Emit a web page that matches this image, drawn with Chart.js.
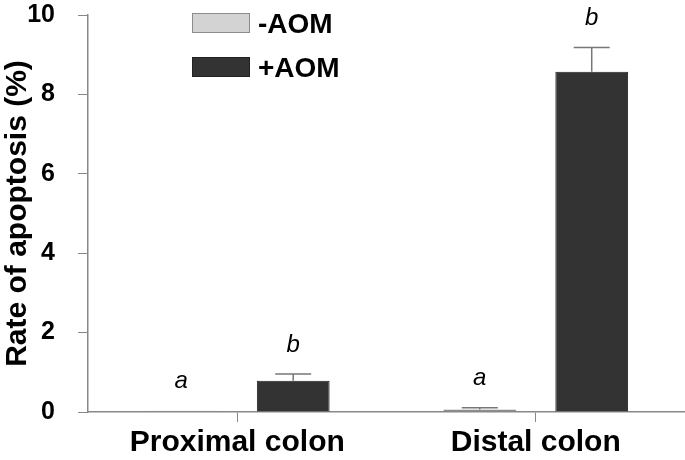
<!DOCTYPE html>
<html>
<head>
<meta charset="utf-8">
<script src="https://cdn.jsdelivr.net/npm/chart.js@4.4.1/dist/chart.umd.min.js"></script>
<style>
  html, body { margin: 0; padding: 0; background: #fff; }
  #wrap { width: 685px; height: 460px; position: relative; }
</style>
</head>
<body>
<div id="wrap"><canvas id="chartBar"></canvas></div>
<script>
// data
var categories = ["Proximal colon", "Distal colon"];
var minusAOM = [0.03, 0.06];
var plusAOM = [0.79, 8.57];
var minusErr = [0.0, 0.05];
var plusErr = [0.17, 0.61];
var minusLetters = ["a", "a"];
var plusLetters = ["b", "b"];
var yTicks = [0, 2, 4, 6, 8, 10];

var FONT = "'Liberation Sans', Arial, Helvetica, sans-serif";

// error bars (upward only) and significance letters
var errorBars = {
    id: "errorBars",
    afterDatasetsDraw: function (chart) {
        var ctx = chart.ctx;
        var y = chart.scales.y;
        chart.data.datasets.forEach(function (ds, di) {
            var meta = chart.getDatasetMeta(di);
            meta.data.forEach(function (bar, i) {
                var top = y.getPixelForValue(ds.data[i] + ds.err[i]);
                if (ds.err[i] > 0) {
                    ctx.save();
                    ctx.strokeStyle = "#777";
                    ctx.lineWidth = 1.5;
                    ctx.beginPath();
                    ctx.moveTo(bar.x, bar.y);
                    ctx.lineTo(bar.x, top);
                    ctx.moveTo(bar.x - 18, top);
                    ctx.lineTo(bar.x + 18, top);
                    ctx.stroke();
                    ctx.restore();
                }
                ctx.save();
                ctx.fillStyle = "#000";
                ctx.font = "italic 24px " + FONT;
                ctx.textAlign = "center";
                ctx.textBaseline = "middle";
                ctx.fillText(ds.letters[i], bar.x, top - 29);
                ctx.restore();
            });
        });
    }
};

// legend boxes stacked inside the plot
var boxLegend = {
    id: "boxLegend",
    afterDraw: function (chart) {
        var ctx = chart.ctx;
        chart.data.datasets.forEach(function (ds, di) {
            var bx = 192, by = 13 + di * 44;
            ctx.save();
            ctx.fillStyle = ds.backgroundColor;
            ctx.fillRect(bx, by, 58, 20);
            ctx.strokeStyle = ds.borderColor;
            ctx.lineWidth = 1;
            ctx.strokeRect(bx + 0.5, by + 0.5, 57, 19);
            ctx.fillStyle = "#000";
            ctx.font = "bold 28px " + FONT;
            ctx.textBaseline = "middle";
            ctx.fillText(ds.label, bx + 66, by + 12);
            ctx.restore();
        });
    }
};

var ctx = document.getElementById("chartBar").getContext("2d");
var chart = new Chart(ctx, {
    type: "bar",
    data: {
        labels: categories,
        datasets: [{
            label: "-AOM",
            data: minusAOM,
            err: minusErr,
            letters: minusLetters,
            backgroundColor: "#d3d3d3",
            borderColor: "#8c8c8c",
            borderWidth: 1,
            borderSkipped: false,
            categoryPercentage: 0.75,
            barPercentage: 0.65
        }, {
            label: "+AOM",
            data: plusAOM,
            err: plusErr,
            letters: plusLetters,
            backgroundColor: "#333333",
            borderColor: "#222222",
            borderWidth: 1,
            categoryPercentage: 0.75,
            barPercentage: 0.65
        }]
    },
    options: {
        responsive: true,
        maintainAspectRatio: false,
        animation: false,
        layout: { padding: { top: 15, right: 0, left: 0, bottom: 0 } },
        plugins: {
            legend: { display: false },
            tooltip: { enabled: false }
        },
        scales: {
            x: {
                grid: {
                    display: true,
                    offset: false,
                    drawOnChartArea: false,
                    drawTicks: true,
                    tickLength: 10,
                    color: "#888"
                },
                border: { color: "#888", width: 1.5 },
                ticks: {
                    color: "#000",
                    padding: 3,
                    font: { family: FONT, size: 30, weight: "bold" }
                },
                afterFit: function (scale) {
                    scale.height = 48;
                    scale.paddingLeft = 0;
                    scale.paddingRight = 0;
                }
            },
            y: {
                min: 0,
                max: 10,
                afterBuildTicks: function (scale) {
                    scale.ticks = yTicks.map(function (v) { return { value: v }; });
                },
                grid: {
                    display: true,
                    drawOnChartArea: false,
                    drawTicks: true,
                    tickLength: 10,
                    color: "#888"
                },
                border: { color: "#888", width: 1.5 },
                ticks: {
                    color: "#000",
                    padding: 23,
                    font: { family: FONT, size: 25, weight: "bold" }
                },
                title: {
                    display: true,
                    text: "Rate of apoptosis (%)",
                    color: "#000",
                    padding: { top: 0, bottom: 0 },
                    font: { family: FONT, size: 30, weight: "bold" }
                },
                afterFit: function (scale) {
                    scale.width = 88;
                    scale.paddingTop = 0;
                    scale.paddingBottom = 0;
                }
            }
        }
    },
    plugins: [errorBars, boxLegend]
});
</script>
</body>
</html>
